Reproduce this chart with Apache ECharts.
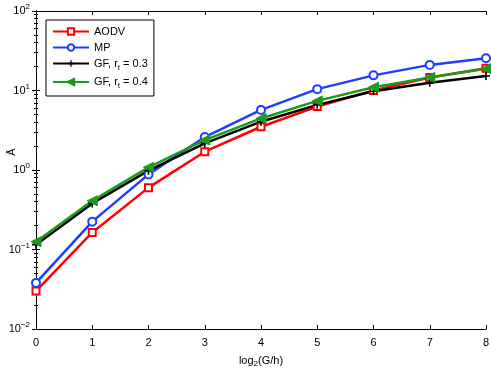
<!DOCTYPE html>
<html><head><meta charset="utf-8">
<script src="https://cdn.jsdelivr.net/npm/echarts@6/dist/echarts.min.js"></script>
<style>html,body{margin:0;padding:0;background:#fff}#c{width:491px;height:368px}</style>
</head><body><div id="c"></div>
<script>
const categories = [0, 1, 2, 3, 4, 5, 6, 7, 8];
const aodv = [0.030, 0.164, 0.60, 1.70, 3.5, 6.3, 10.0, 14.6, 19.0];
const mp   = [0.038, 0.224, 0.88, 2.6, 5.7, 10.4, 15.5, 21.0, 25.4];
const gf03 = [0.115, 0.38, 0.98, 2.16, 4.05, 6.6, 9.8, 12.5, 15.2];
const gf04 = [0.125, 0.41, 1.08, 2.38, 4.45, 7.4, 11.0, 14.6, 18.8];
const seriesNames = ['AODV', 'MP', 'GF03', 'GF04'];
const xTicks = ['0','1','2','3','4','5','6','7','8'];

const font = 'Liberation Sans, Arial, sans-serif';
const plusPath = 'path://M4,0L6,0L6,4L10,4L10,6L6,6L6,10L4,10L4,6L0,6L0,4L4,4Z';
const chart = echarts.init(document.getElementById('c'), null, {renderer:'canvas'});
function mk(name, data, color, symbol, size, extra) {
  return Object.assign({
    name, type:'line', data: data.map((v,i)=>[categories[i], v]),
    symbol, symbolSize:size, showAllSymbol:true,
    lineStyle:{color, width:2.5}, itemStyle:{color:'#fff', borderColor:color, borderWidth:2},
    color, z:3
  }, extra||{});
}
const supTick = v => {
  const e = Math.round(Math.log10(v));
  return '{b|10}{s|' + (e<0?'\u2212'+(-e):e) + '}';
};
chart.setOption({
  animation:false,
  grid:{left:36, right:5, top:11, bottom:39, outerBoundsMode:'none', containLabel:false},
  legend:{
    left:46, top:20, orient:'vertical', itemGap:5, itemWidth:36, itemHeight:8,
    backgroundColor:'#fff', borderColor:'#000', borderWidth:1, padding:[6,6,6,6],
    textStyle:{fontFamily:font, fontSize:11, color:'#000',
      rich:{n:{fontFamily:font,fontSize:11}, sub:{fontFamily:font,fontSize:8, padding:[8,0,0,0]}}},
    formatter: n => n==='GF03' ? '{n|GF, r}{sub|t}{n| = 0.3}' : n==='GF04' ? '{n|GF, r}{sub|t}{n| = 0.4}' : n,
    data: seriesNames
  },
  xAxis:[{
    type:'value', min:0, max:8, interval:1,
    axisLine:{lineStyle:{color:'#000', width:1}}, axisTick:{inside:true, length:4, lineStyle:{color:'#000'}},
    axisLabel:{fontFamily:font, fontSize:11, color:'#000', margin:8, formatter: v => xTicks[v]},
    splitLine:{show:false},
    name:'{n|log}{s|2}{n|(G/h)}', nameLocation:'middle', nameGap:24,
    nameTextStyle:{rich:{n:{fontFamily:font,fontSize:11,color:'#000'}, s:{fontFamily:font,fontSize:8,color:'#000',padding:[7,0,0,0]}}}
  },{
    type:'value', min:0, max:8, interval:1, position:'top',
    axisLine:{lineStyle:{color:'#000'}}, axisTick:{inside:true, length:4, lineStyle:{color:'#000'}},
    axisLabel:{show:false}, splitLine:{show:false}
  }],
  yAxis:[{
    type:'log', logBase:10, min:0.01, max:100,
    axisLine:{lineStyle:{color:'#000'}}, axisTick:{inside:true, length:4, lineStyle:{color:'#000'}},
    minorTick:{show:true, splitNumber:9, length:2, lineStyle:{color:'#000'}},
    axisLabel:{fontFamily:font, fontSize:11, color:'#000', margin:6, formatter: supTick,
      rich:{b:{fontFamily:font,fontSize:11,color:'#000'}, s:{fontFamily:font,fontSize:8,color:'#000',padding:[0,0,8,0]}}},
    splitLine:{show:false},
    name:'\u0100', nameLocation:'middle', nameGap:19, nameRotate:90, nameMoveOverlap:false,
    nameTextStyle:{fontFamily:font, fontSize:11, color:'#000', padding:[0,0,0,36]}
  },{
    type:'log', logBase:10, min:0.01, max:100, position:'right',
    axisLine:{lineStyle:{color:'#000'}}, axisTick:{inside:true, length:4, lineStyle:{color:'#000'}},
    minorTick:{show:true, splitNumber:9, length:2, lineStyle:{color:'#000'}},
    axisLabel:{show:false}, splitLine:{show:false}
  }],
  series:[
    mk('AODV', aodv, '#ff0000', 'rect', 7),
    mk('MP', mp, '#1f3cff', 'circle', 8),
    mk('GF03', gf03, '#000000', plusPath, 8, {itemStyle:{color:'#000', borderColor:'#000', borderWidth:0}}),
    mk('GF04', gf04, '#1c9a1c', 'triangle', 10, {symbolRotate:90, itemStyle:{color:'#1c9a1c', borderColor:'#1c9a1c', borderWidth:1}})
  ]
});
</script></body></html>
